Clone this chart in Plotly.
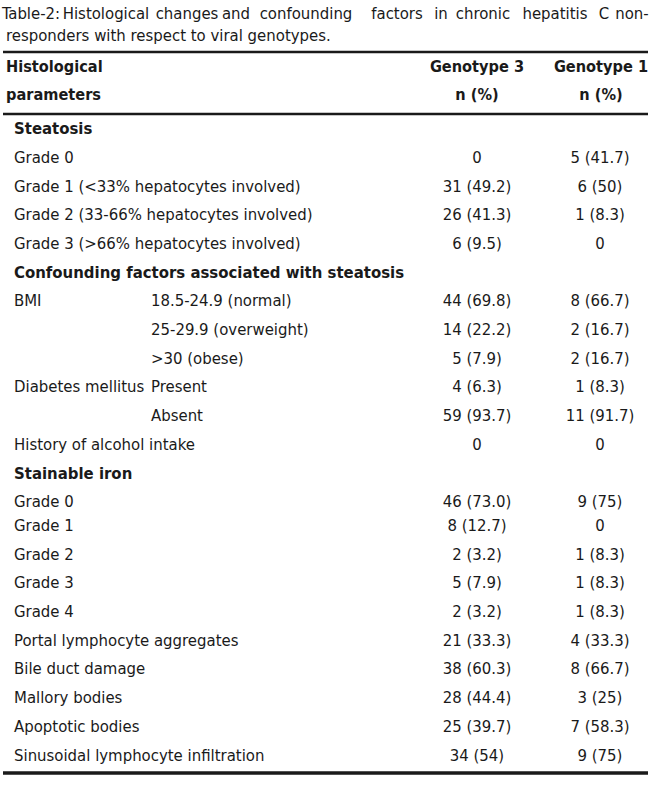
import plotly.graph_objects as go

# Table-2 content
title_line1 = ["Table-2:", "Histological", "changes", "and", "confounding", "factors",
               "in", "chronic", "hepatitis", "C", "non-"]
title_line2 = "responders with respect to viral genotypes."

header_param = ["Histological", "parameters"]
header_g3 = ["Genotype 3", "n (%)"]
header_g1 = ["Genotype 1", "n (%)"]

labels = ["Steatosis", "Grade 0", "Grade 1 (<33% hepatocytes involved)",
          "Grade 2 (33-66% hepatocytes involved)", "Grade 3 (>66% hepatocytes involved)",
          "Confounding factors associated with steatosis", "BMI", "", "",
          "Diabetes mellitus", "", "History of alcohol intake", "Stainable iron",
          "Grade 0", "Grade 1", "Grade 2", "Grade 3", "Grade 4",
          "Portal lymphocyte aggregates", "Bile duct damage", "Mallory bodies",
          "Apoptotic bodies", "Sinusoidal lymphocyte infiltration"]
sublabels = ["", "", "", "", "", "", "18.5-24.9 (normal)", "25-29.9 (overweight)",
             ">30 (obese)", "Present", "Absent", "", "", "", "", "", "", "", "", "", "", "", ""]
genotype3 = ["", "0", "31 (49.2)", "26 (41.3)", "6 (9.5)", "", "44 (69.8)", "14 (22.2)",
             "5 (7.9)", "4 (6.3)", "59 (93.7)", "0", "", "46 (73.0)", "8 (12.7)", "2 (3.2)",
             "5 (7.9)", "2 (3.2)", "21 (33.3)", "38 (60.3)", "28 (44.4)", "25 (39.7)", "34 (54)"]
genotype1 = ["", "5 (41.7)", "6 (50)", "1 (8.3)", "0", "", "8 (66.7)", "2 (16.7)",
             "2 (16.7)", "1 (8.3)", "11 (91.7)", "0", "", "9 (75)", "0", "1 (8.3)",
             "1 (8.3)", "1 (8.3)", "4 (33.3)", "8 (66.7)", "3 (25)", "7 (58.3)", "9 (75)"]
bold_rows = {"Steatosis", "Confounding factors associated with steatosis", "Stainable iron"}

# axes map 1:1 onto page pixels (body margin removed in post_script)
W, H = 650, 786
FONT = "DejaVu Sans Condensed, Liberation Sans Narrow, sans-serif"
SIZE = 16.6
INK = "#1a1a1a"

row_y = []
for i in range(len(labels)):
    y = 130 + i * 28.7
    if i >= 14:  # stainable iron grades 0/1 are set tighter
        y -= 5
    row_y.append(y)

fig = go.Figure()

def text_trace(xs, ys, texts, pos, bold=False, size=SIZE):
    fig.add_trace(go.Scatter(
        x=xs, y=ys, text=texts, mode="text", textposition=pos, hoverinfo="skip",
        cliponaxis=False,
        textfont=dict(family=FONT, size=size, color=INK, weight="bold" if bold else "normal"),
        showlegend=False))

# body rows
for bold in (False, True):
    idx = [i for i, l in enumerate(labels) if (l in bold_rows) == bold and l]
    text_trace([14] * len(idx), [row_y[i] for i in idx], [labels[i] for i in idx],
               "middle right", bold)
idx = [i for i, s in enumerate(sublabels) if s]
text_trace([151] * len(idx), [row_y[i] for i in idx], [sublabels[i] for i in idx], "middle right")
idx = [i for i, v in enumerate(genotype3) if v]
text_trace([477] * len(idx), [row_y[i] for i in idx], [genotype3[i] for i in idx], "middle center")
idx = [i for i, v in enumerate(genotype1) if v]
text_trace([600] * len(idx), [row_y[i] for i in idx], [genotype1[i] for i in idx], "middle center")

# header
text_trace([6, 6], [68, 96], header_param, "middle right", True, 16.2)
text_trace([477, 477], [68, 96], header_g3, "middle center", True, 16.2)
text_trace([601, 601], [68, 96], header_g1, "middle center", True, 16.2)

# caption, first line justified to full width (word centres)
title_x = [31, 106, 187, 236, 306, 397, 441, 483, 555, 604, 632]
text_trace(title_x, [15] * len(title_line1), title_line1, "middle center")
text_trace([6], [37], [title_line2], "middle right")

# rules
for y, w in [(52, 2.5), (114, 2.5), (773, 3.5)]:
    fig.add_shape(type="line", x0=3, x1=648, y0=y, y1=y, line=dict(color=INK, width=w))

fig.update_layout(
    width=W, height=H, margin=dict(l=0, r=0, t=0, b=0),
    paper_bgcolor="white", plot_bgcolor="white",
    xaxis=dict(range=[0, W], visible=False, fixedrange=True),
    yaxis=dict(range=[H, 0], visible=False, fixedrange=True),
)
fig.write_html("out.html", config={"displayModeBar": False},
               post_script="document.body.style.margin='0';document.body.style.overflow='hidden';")
